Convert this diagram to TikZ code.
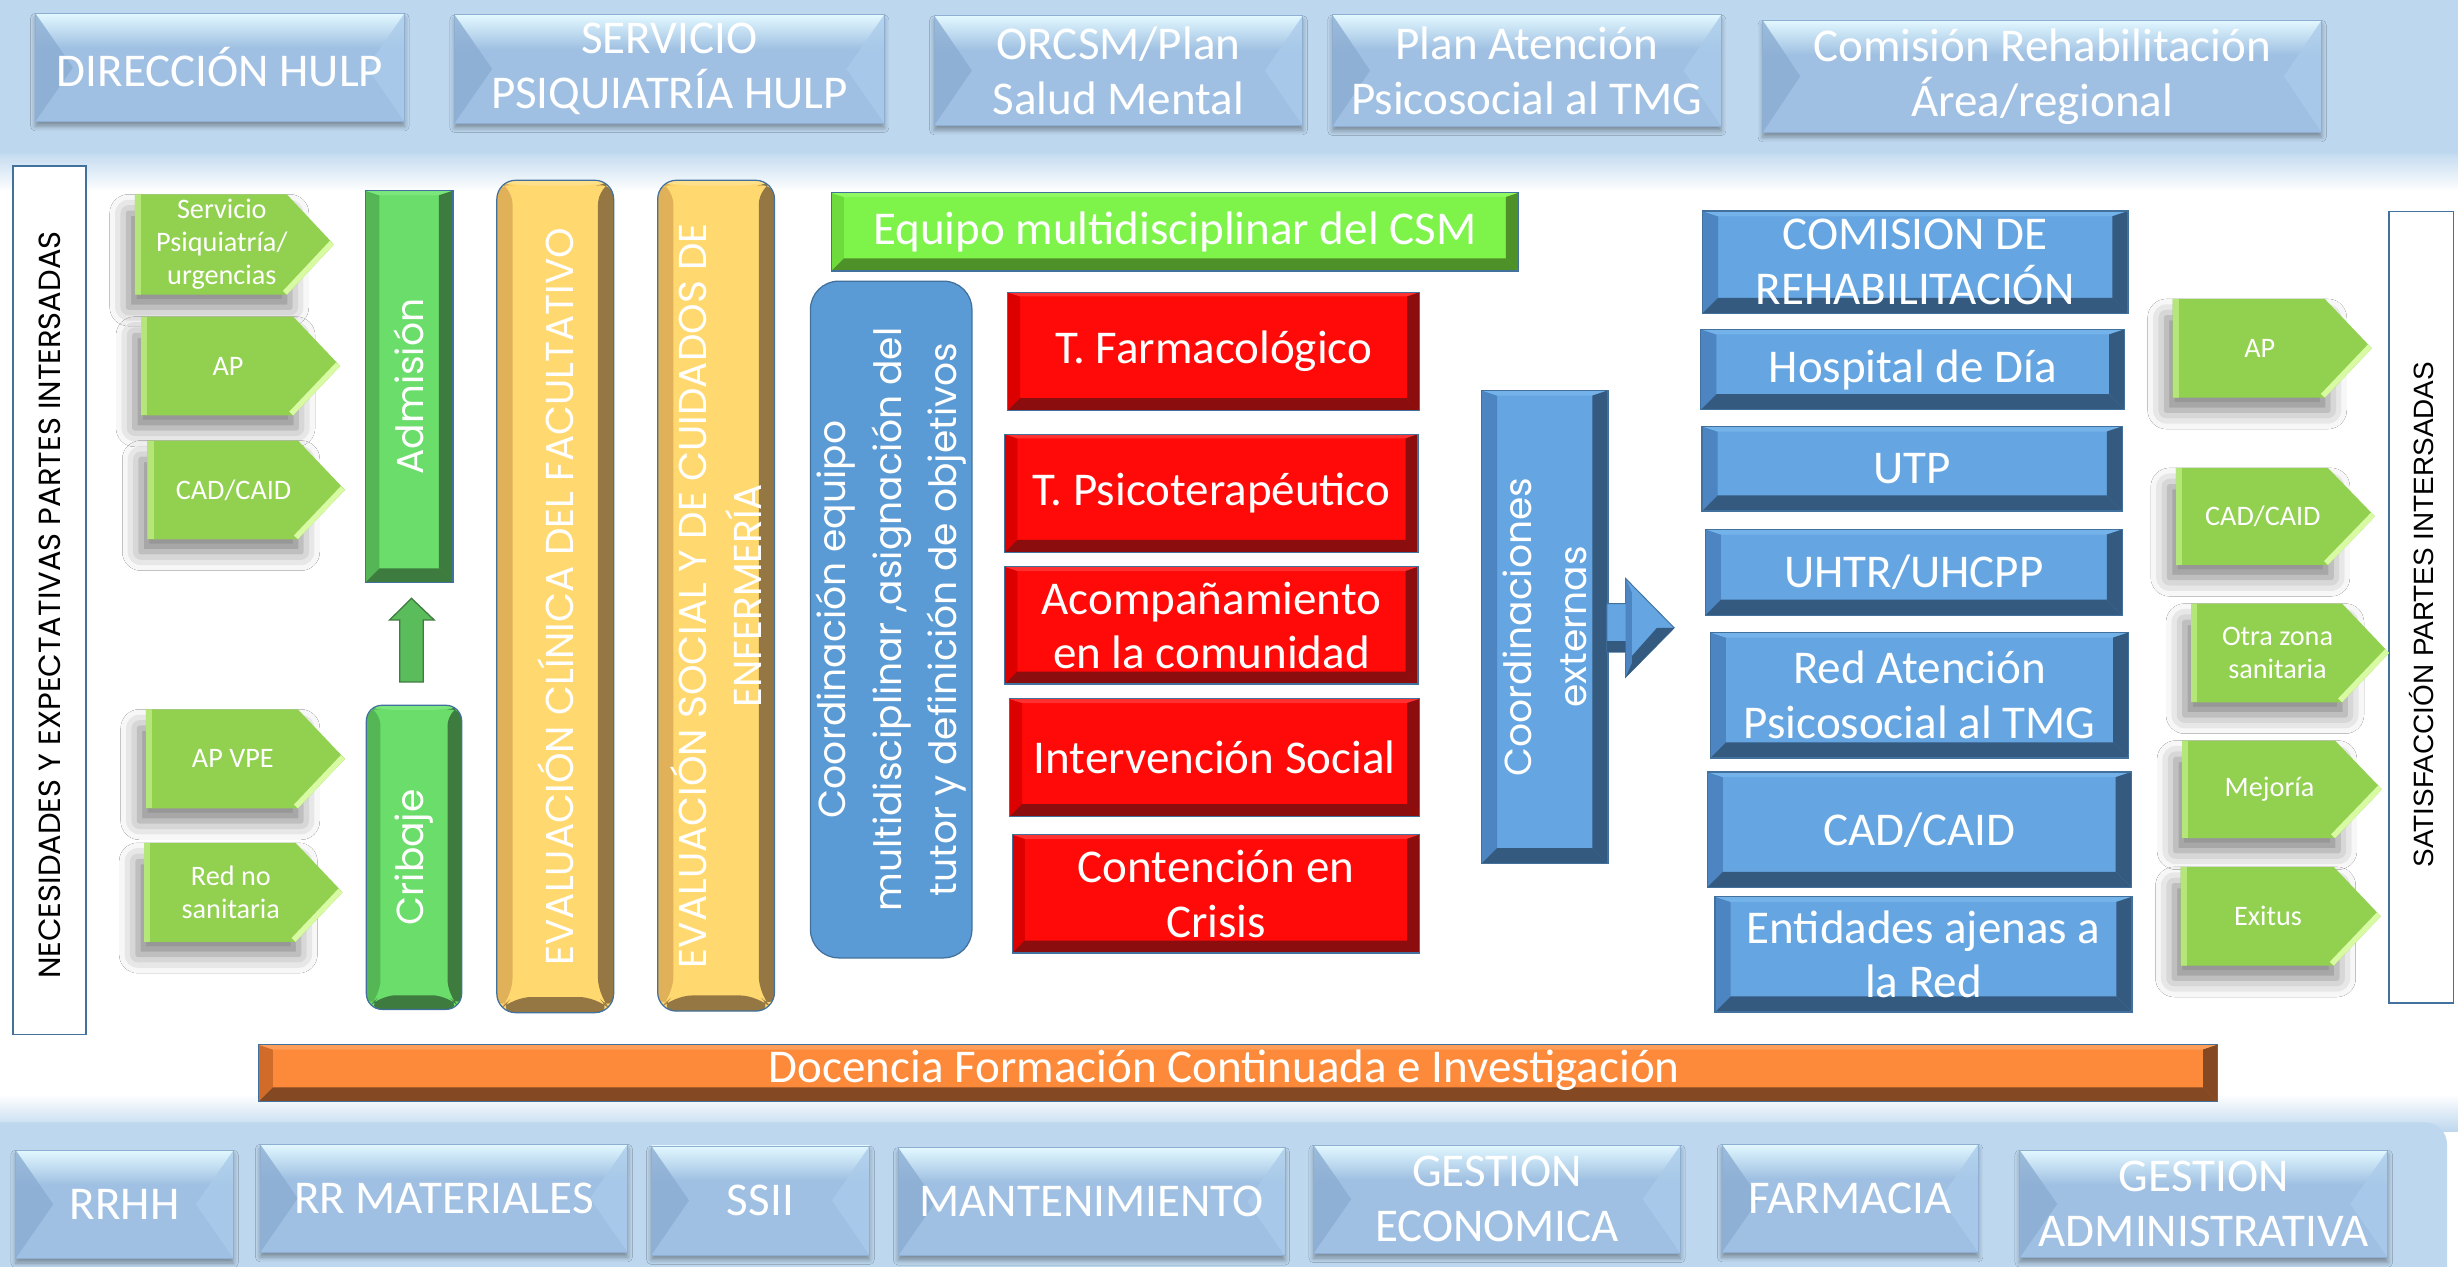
\documentclass[tikz,border=0pt]{standalone}
\usepackage{fontspec}
\setmainfont{Carlito}
\newfontfamily\gothic{Poppins}
\newfontfamily\arialf{Liberation Sans}
\usetikzlibrary{calc,shadows.blur}

\definecolor{band}{HTML}{BDD7EE}
\definecolor{pbody}{HTML}{9FC0E2}
\definecolor{ptop}{HTML}{E2F8FF}
\definecolor{pleft}{HTML}{8BADD2}
\definecolor{pright}{HTML}{AACBEA}
\definecolor{pline}{HTML}{8FAFD2}
\definecolor{outl}{HTML}{41719C}
\definecolor{gface}{HTML}{92D050}
\definecolor{gleft}{HTML}{B5E67A}
\definecolor{ghl}{HTML}{D8FAA2}
\definecolor{aface}{HTML}{6BDD6B}
\definecolor{aleft}{HTML}{55B655}
\definecolor{atop}{HTML}{7BE67B}
\definecolor{adark}{HTML}{3D7B3F}
\definecolor{yface}{HTML}{FFD970}
\definecolor{yleft}{HTML}{E0B158}
\definecolor{ytop}{HTML}{FFE08A}
\definecolor{ydark}{HTML}{957743}
\definecolor{eface}{HTML}{7EF34A}
\definecolor{eleft}{HTML}{6EDB3C}
\definecolor{etop}{HTML}{90F860}
\definecolor{edark}{HTML}{4E9129}
\definecolor{rface}{HTML}{FF0909}
\definecolor{rleft}{HTML}{DD0000}
\definecolor{rtop}{HTML}{FF3030}
\definecolor{rdark}{HTML}{8C0D0D}
\definecolor{bface}{HTML}{64A5E2}
\definecolor{bleft}{HTML}{4D85C2}
\definecolor{btop}{HTML}{74B2EA}
\definecolor{bdark}{HTML}{355A80}
\definecolor{cface}{HTML}{5B9BD5}
\definecolor{oface}{HTML}{FC8A3A}
\definecolor{oleft}{HTML}{D06B2A}
\definecolor{otop}{HTML}{FD9E5A}
\definecolor{odark}{HTML}{844922}

\newcommand\bevel[5]{%
  \coordinate (bnw) at (path picture bounding box.north west);
  \coordinate (bne) at (path picture bounding box.north east);
  \coordinate (bse) at (path picture bounding box.south east);
  \coordinate (bsw) at (path picture bounding box.south west);
  \fill[#1] (bnw) -- ([shift={(#5,#5/3)}]bnw) -- ([shift={(#5,-#5)}]bsw) -- (bsw) -- cycle;
  \fill[#2] (bnw) -- (bne) -- ([shift={(-#5,#5/3)}]bne) -- ([shift={(#5,#5/3)}]bnw) -- cycle;
  \fill[#3] (bne) -- (bse) -- ([shift={(-#5,-#5)}]bse) -- ([shift={(-#5,#5/3)}]bne) -- cycle;
  \fill[#4] (bsw) -- ([shift={(#5,-#5)}]bsw) -- ([shift={(-#5,-#5)}]bse) -- (bse) -- cycle;
}
\newcommand\angbev{%
  \coordinate (bnw) at (path picture bounding box.north west);
  \coordinate (bne) at (path picture bounding box.north east);
  \coordinate (bse) at (path picture bounding box.south east);
  \coordinate (bsw) at (path picture bounding box.south west);
  \shade[top color=ptop, bottom color=pbody] (bnw) rectangle ([shift={(0,22)}]bne);
  \fill[pleft, opacity=.8] (bnw) -- ($(bnw)!.5!(bsw)+(24,0)$) -- (bsw) -- cycle;
  \fill[pright, opacity=.8] (bne) -- ($(bne)!.5!(bse)+(-24,0)$) -- (bse) -- cycle;
}
\newcommand\garhl{%
  \fill[gleft] (path picture bounding box.north west) rectangle ([shift={(4,0)}]path picture bounding box.south west);
  \draw[ghl, line width=7pt] (path picture bounding box.east) -- ([shift={(-30,0)}]path picture bounding box.south east);
}
% green arrow: name, x0, y0, x1, y1
\newcommand\garr[5]{%
  \node[gshade, minimum width={#4-#2-24}, minimum height={#5-#3-4}] (#1s) at ({(#2+#4)/2-12},{(#3+#5)/2}) {};
  \path[garrow] (#2,#3) -- ({#4-30},#3) -- (#4,{(#3+#5)/2}) -- ({#4-30},#5) -- (#2,#5) -- cycle;
  \coordinate (#1) at ({(#2+#4)/2-8},{(#3+#5)/2});
}

\tikzset{
  every node/.style={inner sep=0pt, text=white, align=center},
  lbl/.style={font=\fontsize{30}{35}\selectfont},
  small/.style={font=\fontsize{18}{21}\selectfont},
  vlab/.style={rotate=90, font=\gothic\fontsize{24}{35.5}\selectfont},
  panel/.style={fill=pbody, draw=pline, line width=.5pt, lbl,
    blur shadow={shadow xshift=0pt, shadow yshift=-3pt, shadow blur radius=3pt, shadow opacity=35},
    path picture={\angbev}},
  redbox/.style={fill=rface, draw=outl, line width=.8pt, lbl, path picture={\bevel{rleft}{rtop}{rdark}{rdark}{8}}},
  bluebox/.style={fill=bface, draw=outl, line width=.8pt, lbl, path picture={\bevel{bleft}{btop}{bdark}{bdark}{10}}},
  admbox/.style={fill=aface, draw=outl, line width=.8pt, path picture={\bevel{aleft}{atop}{adark}{adark}{9}}},
  yelbox/.style={fill=yface, draw=outl, line width=.8pt, rounded corners=12pt, path picture={\bevel{yleft}{ytop}{ydark}{ydark}{10}}},
  garrow/.style={fill=gface, path picture={\garhl}},
  gshade/.style={blur shadow={shadow xshift=-4pt, shadow yshift=-10pt, shadow blur radius=12pt, shadow opacity=50}},
  sidebox/.style={draw=outl, line width=1pt, fill=white},
}

\begin{document}
\begin{tikzpicture}[x=1pt, y=-1pt]
\useasboundingbox (0,0) rectangle (1568,808);
\fill[white] (0,0) rectangle (1568,808);
\shade[top color=band, bottom color=white] (0,95) rectangle (1568,122);
\shade[top color=white, bottom color=band] (0,698) rectangle (1568,722);
\fill[band, rounded corners=14pt] (-20,-20) rectangle (1588,98);
\fill[band, rounded corners=14pt] (-20,716) rectangle (1561,830);

\node[panel, minimum width=235.5pt, minimum height=69pt] (dir) at (140.3,43) {DIRECCIÓN HULP};
\node[panel, minimum width=274pt, minimum height=69pt] (serv) at (427,44) {SERVICIO\\PSIQUIATRÍA HULP};
\node[panel, minimum width=235pt, minimum height=70pt] (orcsm) at (713.5,45) {ORCSM/Plan\\Salud Mental};
\node[panel, minimum width=248pt, minimum height=71pt] (plan) at (974,45) {Plan Atención\\Psicosocial al TMG};
\node[panel, minimum width=356.5pt, minimum height=71.5pt] (comis) at (1302.7,48.7) {Comisión Rehabilitación\\Área/regional};

\node[panel, minimum width=139pt, minimum height=69pt] (rrhh) at (79.5,768.2) {RRHH};
\node[panel, minimum width=234.5pt, minimum height=69pt] (rrmat) at (283.2,764.4) {RR MATERIALES};
\node[panel, minimum width=139.2pt, minimum height=69.6pt] (ssii) at (485.1,765.8) {SSII};
\node[panel, minimum width=246.7pt, minimum height=69pt] (mant) at (696.3,766.5) {MANTENIMIENTO};
\node[panel, minimum width=234pt, minimum height=69pt] (geco) at (955,765) {GESTION\\ECONOMICA};
\node[panel, minimum width=163.5pt, minimum height=69pt] (farm) at (1180.2,764.4) {FARMACIA};
\node[panel, minimum width=234.9pt, minimum height=68.7pt] (gadm) at (1405.8,768) {GESTION\\ADMINISTRATIVA};

\node[sidebox, minimum width=46.7pt, minimum height=554pt] (nec) at (31.6,383) {};
\node[rotate=90, text=black, font=\gothic\fontsize{19.5}{22}\selectfont] (nect) at (32,386) {NECESIDADES Y EXPECTATIVAS PARTES INTERSADAS};
\node[sidebox, minimum width=41pt, minimum height=505pt] (sat) at (1544.5,387.3) {};
\node[rotate=90, text=black, font=\arialf\fontsize{17.8}{20}\selectfont] (satt) at (1545,392) {SATISFACCIÓN PARTES INTERSADAS};

\garr{inserv}{86}{124}{213}{188}
\garr{inap}{90}{202}{217}{265}
\garr{incad}{94}{281}{220}{344}
\garr{invpe}{93}{452.5}{220}{515.7}
\garr{inred}{92}{537.6}{218.5}{600.8}
\node[small] (inservt) at (inserv) {Servicio\\Psiquiatría/\\urgencias};
\node[small] (inapt) at (inap) {AP};
\node[small] (incadt) at (incad) {CAD/CAID};
\node[small] (invpet) at (invpe) {AP VPE};
\node[small] (inredt) at (inred) {Red no\\sanitaria};

\garr{outap}{1386}{190.7}{1513}{253.7}
\garr{outcad}{1388}{298.5}{1515}{360.4}
\garr{outotra}{1397.7}{385}{1524}{448}
\garr{outmej}{1392}{472.4}{1519.5}{534.7}
\garr{outexi}{1391}{553}{1518.7}{616}
\node[small] (outapt) at (outap) {AP};
\node[small] (outcadt) at (outcad) {CAD/CAID};
\node[small] (outotrat) at (outotra) {Otra zona\\sanitaria};
\node[small] (outmejt) at (outmej) {Mejoría};
\node[small] (outexit) at (outexi) {Exitus};

\node[admbox, minimum width=56pt, minimum height=250pt] (adm) at (261,246.6) {};
\node[vlab] (admt) at (adm) {Admisión};
\node[admbox, rounded corners=10pt, minimum width=60.8pt, minimum height=194pt] (crib) at (264.1,546.9) {};
\node[vlab] (cribt) at (crib) {Cribaje};
\filldraw[fill=aface!85!black, draw=adark, line width=.8pt] (255,435) -- (255,395.5) -- (248.5,395.5) -- (262.5,381.7) -- (277,395.5) -- (270,395.5) -- (270,435) -- cycle;

\node[yelbox, minimum width=74.5pt, minimum height=531pt] (evcli) at (354.2,380.5) {};
\node[vlab, font=\gothic\fontsize{24.8}{35}\selectfont] (evclit) at (evcli) {EVALUACIÓN CLÍNICA DEL FACULTATIVO};
\node[yelbox, minimum width=74.5pt, minimum height=530pt] (evsoc) at (456.8,380) {};
\node[vlab, font=\gothic\fontsize{24.8}{35}\selectfont] (evsoct) at (evsoc) {EVALUACIÓN SOCIAL Y DE CUIDADOS DE\\ENFERMERÍA};

\node[fill=eface, draw=outl, line width=.8pt, lbl, minimum width=438.3pt, minimum height=49.8pt,
  path picture={\bevel{eleft}{etop}{edark}{edark}{8}}] (equipo) at (749.5,147.9) {Equipo multidisciplinar del CSM};
\node[fill=cface, draw=outl, line width=.8pt, rounded corners=18pt, minimum width=103pt, minimum height=431.7pt] (coord) at (568.5,395.2) {};
\node[vlab] (coordt) at (coord) {Coordinación equipo\\multidisciplinar ,asignación del\\tutor y definición de objetivos};

\node[redbox, minimum width=262.9pt, minimum height=75.5pt] (tfarm) at (774.2,224.2) {T. Farmacológico};
\node[redbox, minimum width=263.6pt, minimum height=75.4pt] (tpsi) at (772.8,314.7) {T. Psicoterapéutico};
\node[redbox, minimum width=263.6pt, minimum height=74.8pt] (acomp) at (772.8,399) {Acompañamiento\\en la comunidad};
\node[redbox, minimum width=261.7pt, minimum height=75.2pt] (intsoc) at (774.8,483.4) {Intervención Social};
\node[redbox, minimum width=259.9pt, minimum height=75.6pt] (crisis) at (775.7,570.2) {Contención en\\Crisis};

\node[fill=bface, draw=outl, line width=.8pt, minimum width=80.8pt, minimum height=302pt,
  path picture={\bevel{bleft}{btop}{bdark}{bdark}{10}}] (coext) at (985.4,400) {};
\node[vlab] (coextt) at (coext) {Coordinaciones\\externas};
\filldraw[fill=bface, draw=outl, line width=.6pt] (1025,385) -- (1037,385) -- (1037,369) -- (1068,400.5) -- (1037,432) -- (1037,416) -- (1025,416) -- cycle;
\fill[bdark] (1068,400.5) -- (1037,432) -- (1037,423) -- (1057,400.5) -- cycle;
\fill[bdark] (1025,409) rectangle (1037,416);
\fill[bleft] (1037,369) -- (1041,378) -- (1041,423) -- (1037,432) -- cycle;

\node[bluebox, minimum width=271.5pt, minimum height=65.3pt] (crehab) at (1221.7,167.3) {COMISION DE\\REHABILITACIÓN};
\node[bluebox, minimum width=270.5pt, minimum height=51.4pt] (hdia) at (1220.2,235.7) {Hospital de Día};
\node[bluebox, minimum width=268.3pt, minimum height=54.1pt] (utp) at (1219.8,299) {UTP};
\node[bluebox, minimum width=266.2pt, minimum height=54.9pt] (uhtr) at (1220.9,365.1) {UHTR/UHCPP};
\node[bluebox, minimum width=267pt, minimum height=80.2pt] (redat) at (1224.5,443.5) {Red Atención\\Psicosocial al TMG};
\node[bluebox, minimum width=270.6pt, minimum height=73.8pt] (cadcaid) at (1224.3,529.3) {CAD/CAID};
\node[bluebox, minimum width=266pt, minimum height=73.6pt] (entid) at (1227,608.8) {Entidades ajenas a\\la Red};

\node[fill=oface, draw=outl, line width=.6pt, minimum width=1249.3pt, minimum height=36.2pt,
  path picture={\bevel{oleft}{otop}{odark}{odark}{9}}] (docen) at (789.7,684.6) {};
\node[lbl] (docent) at (781,683) {Docencia Formación Continuada e Investigación};
\end{tikzpicture}
\end{document}
